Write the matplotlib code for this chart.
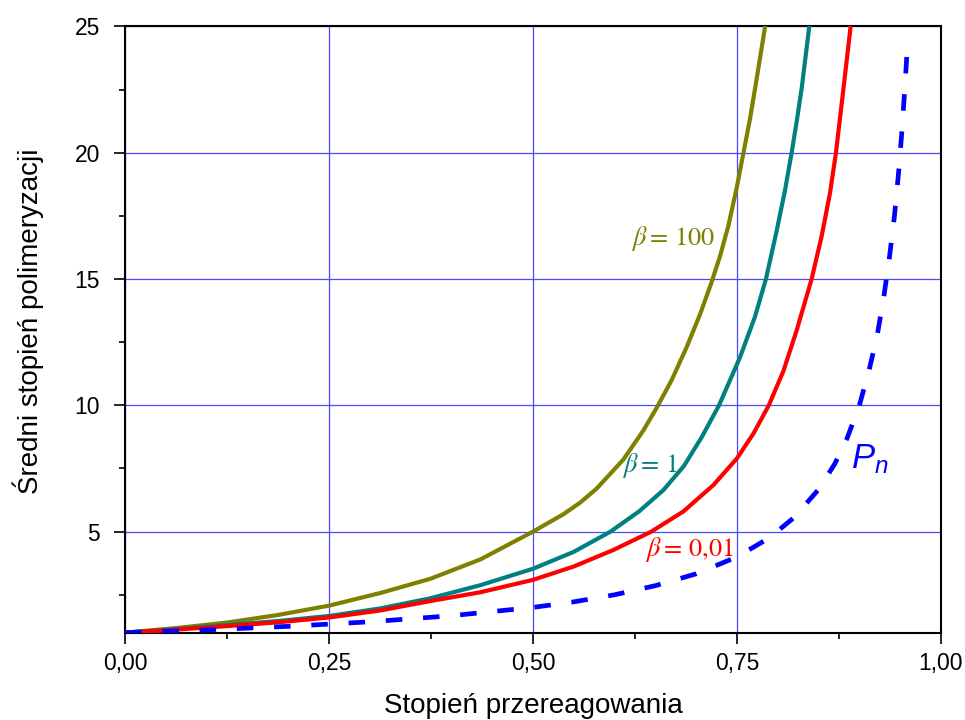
import matplotlib
matplotlib.use("Agg")
import matplotlib.pyplot as plt
from matplotlib.ticker import FixedLocator, MultipleLocator

plt.rcParams['font.family'] = ['Liberation Sans', 'DejaVu Sans']
plt.rcParams['mathtext.fontset'] = 'custom'
plt.rcParams['mathtext.it'] = 'Liberation Sans:italic'
plt.rcParams['mathtext.rm'] = 'Liberation Sans'

# values
# beta = 100
p_b100 = [0.0, 0.0625, 0.125, 0.1875, 0.25, 0.313, 0.374, 0.4356, 0.5, 0.5369,
          0.5579, 0.5779, 0.6107, 0.6352, 0.6516, 0.67, 0.6883, 0.7047, 0.7181,
          0.7292, 0.7394, 0.7496, 0.758, 0.766, 0.774, 0.7845]
x_b100 = [1.0, 1.18, 1.40, 1.70, 2.07, 2.57, 3.13, 3.9, 5.0, 5.68,
          6.15, 6.7, 7.85, 9.0, 9.9, 11.0, 12.3, 13.6, 14.8,
          15.9, 17.1, 18.6, 20.0, 21.35, 22.9, 25.0]
# beta = 1
p_b1 = [0.0, 0.0625, 0.125, 0.1875, 0.25, 0.313, 0.374, 0.4356, 0.5, 0.55,
        0.595, 0.63, 0.66, 0.685, 0.707, 0.728, 0.7537, 0.772, 0.7855, 0.7986,
        0.8088, 0.817, 0.8235, 0.8295, 0.8386]
x_b1 = [1.0, 1.14, 1.30, 1.46, 1.66, 1.96, 2.36, 2.88, 3.53, 4.2,
        5.0, 5.8, 6.65, 7.6, 8.75, 10.0, 11.9, 13.5, 15.0, 16.9,
        18.5, 20.0, 21.3, 22.6, 25.0]
# beta = 0,01
p_b001 = [0.0, 0.0625, 0.125, 0.1875, 0.25, 0.313, 0.374, 0.4356, 0.5, 0.55,
          0.599, 0.645, 0.6844, 0.7213, 0.75, 0.7705, 0.789, 0.8068, 0.823,
          0.8415, 0.8538, 0.864, 0.8713, 0.88, 0.8893]
x_b001 = [1.0, 1.12, 1.26, 1.41, 1.60, 1.88, 2.25, 2.6, 3.09, 3.62,
          4.28, 5.0, 5.8, 6.85, 7.9, 8.9, 10.0, 11.35, 12.95,
          15.0, 16.7, 18.4, 20.0, 22.4, 25.0]
# Pn (dashed)
p_pn = [0.0, 0.1, 0.2, 0.3, 0.4, 0.5, 0.55, 0.6, 0.65, 0.7, 0.75, 0.79, 0.82,
        0.85, 0.87, 0.885, 0.9, 0.912, 0.922, 0.93, 0.937, 0.943, 0.948,
        0.952, 0.956, 0.959]
x_pn = [1.0, 1.11, 1.25, 1.43, 1.67, 2.0, 2.22, 2.5, 2.86, 3.33, 4.0, 4.76, 5.56,
        6.67, 7.69, 8.7, 10.0, 11.4, 12.8, 14.3, 15.9, 17.5, 19.2,
        20.8, 22.7, 24.3]

xticks = [0.0, 0.25, 0.5, 0.75, 1.0]
xticklabels = ['0,00', '0,25', '0,50', '0,75', '1,00']
yticks = [5, 10, 15, 20, 25]
yticklabels = ['5', '10', '15', '20', '25']

fig = plt.figure(figsize=(9.65, 7.2), dpi=100)
ax = fig.add_axes([0.1295, 0.1213, 0.8456, 0.842])

ax.plot(p_b100, x_b100, color='#808000', lw=3.0, solid_joinstyle='round', zorder=3)
ax.plot(p_b1, x_b1, color='#008080', lw=3.0, solid_joinstyle='round', zorder=3)
ax.plot(p_b001, x_b001, color='#ff0000', lw=3.0, solid_joinstyle='round', zorder=3)
ax.plot(p_pn, x_pn, color='#0000ff', lw=3.4, dashes=(3.5, 4.4), zorder=3)

ax.set_xlim(0, 1)
ax.set_ylim(1, 25)
ax.xaxis.set_major_locator(FixedLocator(xticks))
ax.set_xticklabels(xticklabels)
ax.xaxis.set_minor_locator(MultipleLocator(0.125))
ax.yaxis.set_major_locator(FixedLocator(yticks))
ax.set_yticklabels(yticklabels)
ax.yaxis.set_minor_locator(MultipleLocator(2.5))

ax.grid(True, which='major', color='#4848ff', lw=0.9, zorder=1)
ax.set_axisbelow(True)
for s in ax.spines.values():
    s.set_linewidth(1.5)
    s.set_color('black')

ax.tick_params(which='major', direction='out', length=8, width=1.2,
               labelsize=16.5)
ax.tick_params(which='minor', direction='out', length=4.5, width=1.2)
ax.tick_params(axis='y', which='major', pad=10)
ax.tick_params(axis='x', which='major', pad=6)

ax.set_xlabel('Stopień przereagowania', fontsize=20)
ax.xaxis.label.set_va('baseline')
ax.xaxis.set_label_coords(0.5, -0.1325)
ax.set_ylabel('Średni stopień polimeryzacji', fontsize=20)
ax.yaxis.label.set_va('center')
ax.yaxis.label.set_ha('center')
ax.yaxis.set_label_coords(-0.118, 0.513)

ax.text(0.6197, 16.35, r'$\beta = \,100$', color='#808000', fontsize=19,
        math_fontfamily='stix', ha='left', va='baseline')
ax.text(0.6087, 7.37, r'$\beta = \,1$', color='#008080', fontsize=19,
        math_fontfamily='stix', ha='left', va='baseline')
ax.text(0.6373, 4.04, r'$\beta = \,0{,}01$', color='#ff0000', fontsize=19,
        math_fontfamily='stix', ha='left', va='baseline')
ax.text(0.89, 7.5, r'$P_n$', color='#0000ff', fontsize=25,
        ha='left', va='baseline')

fig.savefig('out.png', dpi=100)
